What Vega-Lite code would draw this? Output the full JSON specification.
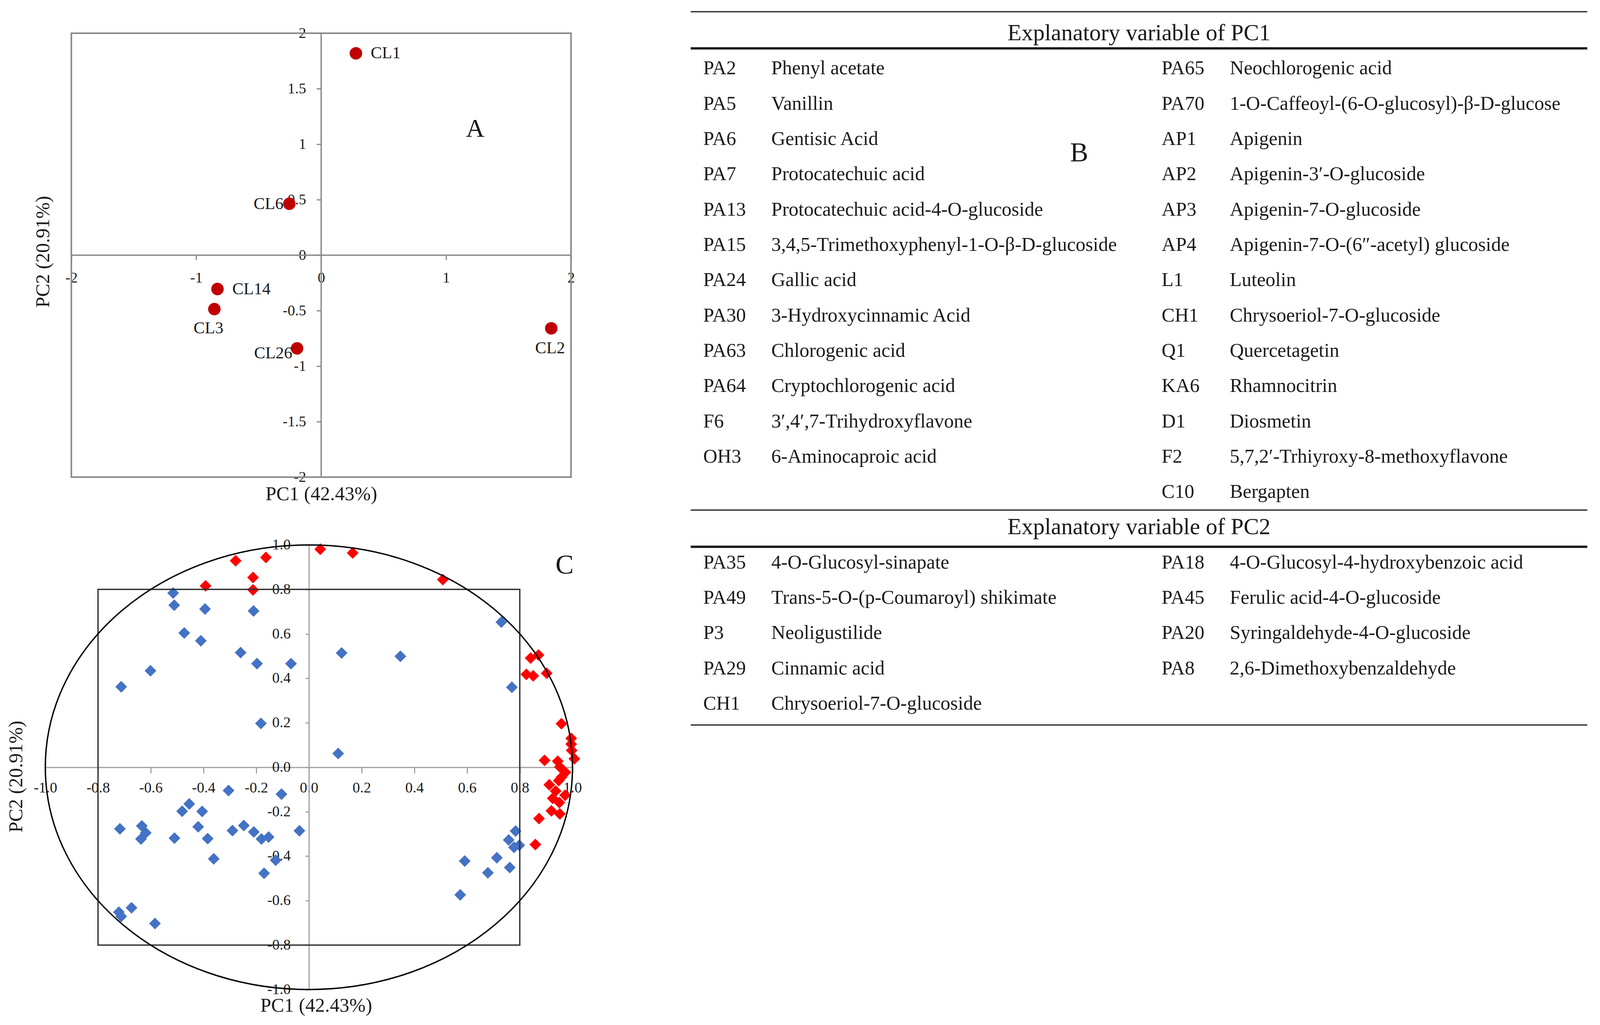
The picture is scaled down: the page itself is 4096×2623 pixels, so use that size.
{
  "$schema": "https://vega.github.io/schema/vega-lite/v6.json",
  "background": "white",
  "padding": {"left": 16, "top": 28, "right": 20, "bottom": 20},
  "bounds": "flush",
  "spacing": 1652.2,
  "config": {
    "font": "Liberation Serif",
    "view": {"stroke": null},
    "axis": {"grid": false, "labelFont": "Liberation Serif", "titleFont": "Liberation Serif", "labelColor": "#1a1a1a", "titleColor": "#1a1a1a", "titleFontWeight": "normal", "labelOverlap": false, "labelFlush": false}
  },
  "datasets": {
    "samples": [
      {"name": "CL1", "x": 0.278, "y": 1.819},
      {"name": "CL6", "x": -0.255, "y": 0.463},
      {"name": "CL14", "x": -0.83, "y": -0.305},
      {"name": "CL3", "x": -0.855, "y": -0.486},
      {"name": "CL26", "x": -0.193, "y": -0.84},
      {"name": "CL2", "x": 1.842, "y": -0.659}
    ],
    "loadings": [
      {"set": "other", "x": -0.515, "y": 0.784}, {"set": "other", "x": -0.511, "y": 0.729}, {"set": "other", "x": -0.394, "y": 0.712},
      {"set": "other", "x": -0.21, "y": 0.703}, {"set": "other", "x": -0.473, "y": 0.604}, {"set": "other", "x": -0.41, "y": 0.569},
      {"set": "other", "x": -0.259, "y": 0.516}, {"set": "other", "x": -0.197, "y": 0.466}, {"set": "other", "x": -0.068, "y": 0.466},
      {"set": "other", "x": -0.601, "y": 0.434}, {"set": "other", "x": -0.712, "y": 0.362}, {"set": "other", "x": -0.182, "y": 0.197},
      {"set": "other", "x": 0.73, "y": 0.653}, {"set": "other", "x": 0.124, "y": 0.514}, {"set": "other", "x": 0.347, "y": 0.499},
      {"set": "other", "x": 0.77, "y": 0.36}, {"set": "other", "x": 0.111, "y": 0.062},
      {"set": "other", "x": -0.305, "y": -0.105}, {"set": "other", "x": -0.104, "y": -0.121}, {"set": "other", "x": -0.454, "y": -0.165},
      {"set": "other", "x": -0.481, "y": -0.198}, {"set": "other", "x": -0.405, "y": -0.199}, {"set": "other", "x": -0.717, "y": -0.277},
      {"set": "other", "x": -0.634, "y": -0.264}, {"set": "other", "x": -0.619, "y": -0.295}, {"set": "other", "x": -0.637, "y": -0.323},
      {"set": "other", "x": -0.42, "y": -0.268}, {"set": "other", "x": -0.51, "y": -0.319}, {"set": "other", "x": -0.384, "y": -0.321},
      {"set": "other", "x": -0.361, "y": -0.412}, {"set": "other", "x": -0.29, "y": -0.285}, {"set": "other", "x": -0.247, "y": -0.262},
      {"set": "other", "x": -0.209, "y": -0.291}, {"set": "other", "x": -0.18, "y": -0.323}, {"set": "other", "x": -0.153, "y": -0.314},
      {"set": "other", "x": -0.126, "y": -0.418}, {"set": "other", "x": -0.17, "y": -0.477}, {"set": "other", "x": -0.036, "y": -0.286},
      {"set": "other", "x": -0.721, "y": -0.652}, {"set": "other", "x": -0.712, "y": -0.671}, {"set": "other", "x": -0.673, "y": -0.632},
      {"set": "other", "x": -0.584, "y": -0.703},
      {"set": "other", "x": 0.784, "y": -0.287}, {"set": "other", "x": 0.758, "y": -0.327}, {"set": "other", "x": 0.798, "y": -0.351},
      {"set": "other", "x": 0.778, "y": -0.36}, {"set": "other", "x": 0.713, "y": -0.407}, {"set": "other", "x": 0.762, "y": -0.451},
      {"set": "other", "x": 0.679, "y": -0.475}, {"set": "other", "x": 0.591, "y": -0.422}, {"set": "other", "x": 0.574, "y": -0.574},
      {"set": "PC1", "x": -0.278, "y": 0.929}, {"set": "PC1", "x": -0.163, "y": 0.944}, {"set": "PC1", "x": -0.212, "y": 0.854},
      {"set": "PC1", "x": -0.392, "y": 0.816}, {"set": "PC1", "x": -0.212, "y": 0.798}, {"set": "PC1", "x": 0.043, "y": 0.981},
      {"set": "PC1", "x": 0.166, "y": 0.964}, {"set": "PC1", "x": 0.508, "y": 0.844}, {"set": "PC1", "x": 0.841, "y": 0.491},
      {"set": "PC1", "x": 0.871, "y": 0.505}, {"set": "PC1", "x": 0.825, "y": 0.418}, {"set": "PC1", "x": 0.851, "y": 0.411},
      {"set": "PC1", "x": 0.902, "y": 0.423}, {"set": "PC1", "x": 0.958, "y": 0.196}, {"set": "PC1", "x": 0.995, "y": 0.13},
      {"set": "PC1", "x": 0.995, "y": 0.104}, {"set": "PC1", "x": 0.997, "y": 0.076}, {"set": "PC1", "x": 1.007, "y": 0.038},
      {"set": "PC1", "x": 0.894, "y": 0.031}, {"set": "PC1", "x": 0.944, "y": 0.027}, {"set": "PC1", "x": 0.952, "y": 0.001},
      {"set": "PC1", "x": 0.973, "y": -0.023}, {"set": "PC1", "x": 0.912, "y": -0.079}, {"set": "PC1", "x": 0.948, "y": -0.06},
      {"set": "PC1", "x": 0.936, "y": -0.107}, {"set": "PC1", "x": 0.972, "y": -0.126}, {"set": "PC1", "x": 0.95, "y": -0.159},
      {"set": "PC1", "x": 0.92, "y": -0.196}, {"set": "PC1", "x": 0.952, "y": -0.21}, {"set": "PC1", "x": 0.873, "y": -0.231},
      {"set": "PC1", "x": 0.859, "y": -0.348}, {"set": "PC1", "x": 0.958, "y": -0.045}, {"set": "PC1", "x": 0.925, "y": -0.14}
    ],
    "table": [
      {"code": "PA2", "name": "Phenyl acetate", "side": 0, "row": 1},
      {"code": "PA5", "name": "Vanillin", "side": 0, "row": 2},
      {"code": "PA6", "name": "Gentisic Acid", "side": 0, "row": 3},
      {"code": "PA7", "name": "Protocatechuic acid", "side": 0, "row": 4},
      {"code": "PA13", "name": "Protocatechuic acid-4-O-glucoside", "side": 0, "row": 5},
      {"code": "PA15", "name": "3,4,5-Trimethoxyphenyl-1-O-β-D-glucoside", "side": 0, "row": 6},
      {"code": "PA24", "name": "Gallic acid", "side": 0, "row": 7},
      {"code": "PA30", "name": "3-Hydroxycinnamic Acid", "side": 0, "row": 8},
      {"code": "PA63", "name": "Chlorogenic acid", "side": 0, "row": 9},
      {"code": "PA64", "name": "Cryptochlorogenic acid", "side": 0, "row": 10},
      {"code": "F6", "name": "3′,4′,7-Trihydroxyflavone", "side": 0, "row": 11},
      {"code": "OH3", "name": "6-Aminocaproic acid", "side": 0, "row": 12},
      {"code": "PA65", "name": "Neochlorogenic acid", "side": 1, "row": 1},
      {"code": "PA70", "name": "1-O-Caffeoyl-(6-O-glucosyl)-β-D-glucose", "side": 1, "row": 2},
      {"code": "AP1", "name": "Apigenin", "side": 1, "row": 3},
      {"code": "AP2", "name": "Apigenin-3′-O-glucoside", "side": 1, "row": 4},
      {"code": "AP3", "name": "Apigenin-7-O-glucoside", "side": 1, "row": 5},
      {"code": "AP4", "name": "Apigenin-7-O-(6″-acetyl) glucoside", "side": 1, "row": 6},
      {"code": "L1", "name": "Luteolin", "side": 1, "row": 7},
      {"code": "CH1", "name": "Chrysoeriol-7-O-glucoside", "side": 1, "row": 8},
      {"code": "Q1", "name": "Quercetagetin", "side": 1, "row": 9},
      {"code": "KA6", "name": "Rhamnocitrin", "side": 1, "row": 10},
      {"code": "D1", "name": "Diosmetin", "side": 1, "row": 11},
      {"code": "F2", "name": "5,7,2′-Trhiyroxy-8-methoxyflavone", "side": 1, "row": 12},
      {"code": "C10", "name": "Bergapten", "side": 1, "row": 13},
      {"code": "PA35", "name": "4-O-Glucosyl-sinapate", "side": 0, "row": 15},
      {"code": "PA49", "name": "Trans-5-O-(p-Coumaroyl) shikimate", "side": 0, "row": 16},
      {"code": "P3", "name": "Neoligustilide", "side": 0, "row": 17},
      {"code": "PA29", "name": "Cinnamic acid", "side": 0, "row": 18},
      {"code": "CH1", "name": "Chrysoeriol-7-O-glucoside", "side": 0, "row": 19},
      {"code": "PA18", "name": "4-O-Glucosyl-4-hydroxybenzoic acid", "side": 1, "row": 15},
      {"code": "PA45", "name": "Ferulic acid-4-O-glucoside", "side": 1, "row": 16},
      {"code": "PA20", "name": "Syringaldehyde-4-O-glucoside", "side": 1, "row": 17},
      {"code": "PA8", "name": "2,6-Dimethoxybenzaldehyde", "side": 1, "row": 18}
    ]
  },
  "hconcat": [
    {
      "bounds": "flush",
      "spacing": 173.6,
      "vconcat": [
        {
          "width": 1349.6,
          "height": 1136,
          "encoding": {
            "x": {"field": "x", "type": "quantitative", "scale": {"domain": [-2.2083, 2.0119], "nice": false, "zero": false},
              "axis": {"orient": "bottom", "offset": -568, "domain": false, "values": [-2, -1, 0, 1, 2], "tickSize": 12, "tickWidth": 3, "tickColor": "#898989", "labelFontSize": 38, "labelBaseline": "middle", "labelPadding": 46, "labelExpr": "datum.value + ''", "title": "PC1 (42.43%)", "titleFontSize": 50, "titleX": 706.2, "titleY": 611.2, "titleBaseline": "middle", "titleAlign": "center"}},
            "y": {"field": "y", "type": "quantitative", "scale": {"domain": [-2, 2], "nice": false, "zero": false},
              "axis": {"orient": "left", "offset": -706.2, "domain": false, "values": [-2, -1.5, -1, -0.5, 0, 0.5, 1, 1.5, 2], "tickSize": 12, "tickWidth": 3, "tickColor": "#898989", "labelFontSize": 38, "labelPadding": 27, "labelExpr": "datum.value + ''", "title": "PC2 (20.91%)", "titleFontSize": 50, "titleX": -711.5, "titleY": 558.8, "titleAngle": -90, "titleBaseline": "middle", "titleAlign": "center"}}
          },
          "layer": [
            {"data": {"values": [{"x": -2, "x2": 2, "y": -2, "y2": 2}]}, "mark": {"type": "rect", "filled": false, "stroke": "#898989", "strokeWidth": 4}, "encoding": {"x2": {"field": "x2"}, "y2": {"field": "y2"}}},
            {"data": {"values": [{"x": -2, "x2": 2, "y": 0}]}, "mark": {"type": "rule", "stroke": "#898989", "strokeWidth": 3.5}, "encoding": {"x2": {"field": "x2"}}},
            {"data": {"values": [{"x": 0, "y": -2, "y2": 2}]}, "mark": {"type": "rule", "stroke": "#898989", "strokeWidth": 3.5}, "encoding": {"y2": {"field": "y2"}}},
            {"data": {"name": "samples"}, "mark": {"type": "point", "shape": "circle", "filled": true, "size": 1024, "color": "#C00000", "opacity": 1}},
            {"data": {"name": "samples"}, "transform": [{"filter": {"field": "name", "oneOf": ["CL1", "CL14"]}}], "mark": {"type": "text", "align": "left", "baseline": "middle", "dx": 38, "fontSize": 43, "color": "#1a1a1a"}, "encoding": {"text": {"field": "name"}}},
            {"data": {"name": "samples"}, "transform": [{"filter": {"field": "name", "oneOf": ["CL6"]}}], "mark": {"type": "text", "align": "right", "baseline": "middle", "dx": -15, "fontSize": 43, "color": "#1a1a1a"}, "encoding": {"text": {"field": "name"}}},
            {"data": {"name": "samples"}, "transform": [{"filter": {"field": "name", "oneOf": ["CL26"]}}], "mark": {"type": "text", "align": "right", "baseline": "middle", "dx": -12, "dy": 12, "fontSize": 43, "color": "#1a1a1a"}, "encoding": {"text": {"field": "name"}}},
            {"data": {"name": "samples"}, "transform": [{"filter": {"field": "name", "oneOf": ["CL3"]}}], "mark": {"type": "text", "align": "center", "baseline": "middle", "dx": -15, "dy": 49, "fontSize": 43, "color": "#1a1a1a"}, "encoding": {"text": {"field": "name"}}},
            {"data": {"name": "samples"}, "transform": [{"filter": {"field": "name", "oneOf": ["CL2"]}}], "mark": {"type": "text", "align": "center", "baseline": "middle", "dx": -3, "dy": 51, "fontSize": 43, "color": "#1a1a1a"}, "encoding": {"text": {"field": "name"}}},
            {"data": {"values": [{"x": 1.233, "y": 1.138, "t": "A"}]}, "mark": {"type": "text", "align": "center", "baseline": "middle", "fontSize": 66, "color": "#1a1a1a"}, "encoding": {"text": {"field": "t"}}}
          ]
        },
        {
          "width": 1349.6,
          "height": 1137.6,
          "encoding": {
            "x": {"field": "x", "type": "quantitative", "scale": {"domain": [-1, 1], "nice": false, "zero": false},
              "axis": {"orient": "bottom", "offset": -568.8, "domain": true, "domainColor": "#A0A0A0", "domainWidth": 3, "values": [-1, -0.8, -0.6, -0.4, -0.2, 0, 0.2, 0.4, 0.6, 0.8, 1], "tickSize": 15, "tickWidth": 3, "tickColor": "#A0A0A0", "labelFontSize": 38, "labelBaseline": "middle", "labelPadding": 38, "labelExpr": "replace(format(datum.value, '.1f'), '\u2212', '-')", "title": "PC1 (42.43%)", "titleFontSize": 50, "titleX": 693, "titleY": 610.4, "titleBaseline": "middle", "titleAlign": "center"}},
            "y": {"field": "y", "type": "quantitative", "scale": {"domain": [-1, 1], "nice": false, "zero": false},
              "axis": {"orient": "left", "offset": -674.8, "domain": true, "domainColor": "#A0A0A0", "domainWidth": 3, "values": [-1, -0.8, -0.6, -0.4, -0.2, 0, 0.2, 0.4, 0.6, 0.8, 1], "tickSize": 9, "tickWidth": 3, "tickColor": "#A0A0A0", "labelFontSize": 38, "labelPadding": 38, "labelExpr": "replace(format(datum.value, '.1f'), '\u2212', '-')", "title": "PC2 (20.91%)", "titleFontSize": 50, "titleX": -749, "titleY": 592.4, "titleAngle": -90, "titleBaseline": "middle", "titleAlign": "center"}}
          },
          "layer": [
            {"data": {"name": "loadings"}, "mark": {"type": "point", "shape": "diamond", "filled": true, "size": 900, "opacity": 1}, "encoding": {"color": {"field": "set", "type": "nominal", "scale": {"domain": ["PC1", "other"], "range": ["#FF0000", "#4472C4"]}, "legend": null}}},
            {"data": {"values": [{"x": -0.8, "x2": 0.8, "y": -0.8, "y2": 0.8}]}, "mark": {"type": "rect", "filled": false, "stroke": "#333333", "strokeWidth": 3.5}, "encoding": {"x2": {"field": "x2"}, "y2": {"field": "y2"}}},
            {"data": {"values": [{"x": 0, "y": 0}]}, "mark": {"type": "point", "shape": "M-1,0C-1,-0.4655,-0.5523,-0.8429,0,-0.8429C0.5523,-0.8429,1,-0.4655,1,0C1,0.4655,0.5523,0.8429,0,0.8429C-0.5523,0.8429,-1,0.4655,-1,0Z", "size": 1821420, "filled": false, "stroke": "#000000", "strokeWidth": 3.5, "opacity": 1}},
            {"data": {"values": [{"x": 0.97, "y": 0.908, "t": "C"}]}, "mark": {"type": "text", "align": "center", "baseline": "middle", "fontSize": 70, "color": "#1a1a1a"}, "encoding": {"text": {"field": "t"}}}
          ]
        }
      ]
    },
    {
      "width": 2295.2,
      "height": 1806.4,
      "layer": [
        {"data": {"values": [{"row": -0.61}, {"row": 13.51}, {"row": 19.6}]}, "mark": {"type": "rule", "color": "#1a1a1a", "strokeWidth": 3}, "encoding": {"y": {"field": "row", "type": "quantitative", "scale": {"domain": [0, 20], "reverse": true, "nice": false, "zero": false}, "axis": null}}},
        {"data": {"values": [{"row": 0.43}, {"row": 14.55}]}, "mark": {"type": "rule", "color": "#1a1a1a", "strokeWidth": 6}, "encoding": {"y": {"field": "row", "type": "quantitative", "axis": null}}},
        {"data": {"values": [{"row": 0, "text": "Explanatory variable of PC1"}, {"row": 14, "text": "Explanatory variable of PC2"}]}, "mark": {"type": "text", "align": "center", "baseline": "middle", "fontSize": 59, "color": "#1a1a1a"}, "encoding": {"y": {"field": "row", "type": "quantitative", "axis": null}, "text": {"field": "text"}}},
        {"data": {"name": "table"}, "mark": {"type": "text", "align": "left", "baseline": "middle", "fontSize": 50, "color": "#1a1a1a"}, "encoding": {"x": {"field": "side", "type": "quantitative", "scale": {"domain": [-0.02727, 1.9284], "nice": false, "zero": false}, "axis": null}, "y": {"field": "row", "type": "quantitative", "axis": null}, "text": {"field": "code"}}},
        {"data": {"name": "table"}, "mark": {"type": "text", "align": "left", "baseline": "middle", "fontSize": 50, "dx": 174.4, "color": "#1a1a1a"}, "encoding": {"x": {"field": "side", "type": "quantitative", "axis": null}, "y": {"field": "row", "type": "quantitative", "axis": null}, "text": {"field": "name"}}},
        {"data": {"values": [{"side": 0.82, "row": 3.4, "t": "B"}]}, "mark": {"type": "text", "align": "center", "baseline": "middle", "fontSize": 70, "color": "#1a1a1a"}, "encoding": {"x": {"field": "side", "type": "quantitative", "axis": null}, "y": {"field": "row", "type": "quantitative", "axis": null}, "text": {"field": "t"}}}
      ]
    }
  ]
}
